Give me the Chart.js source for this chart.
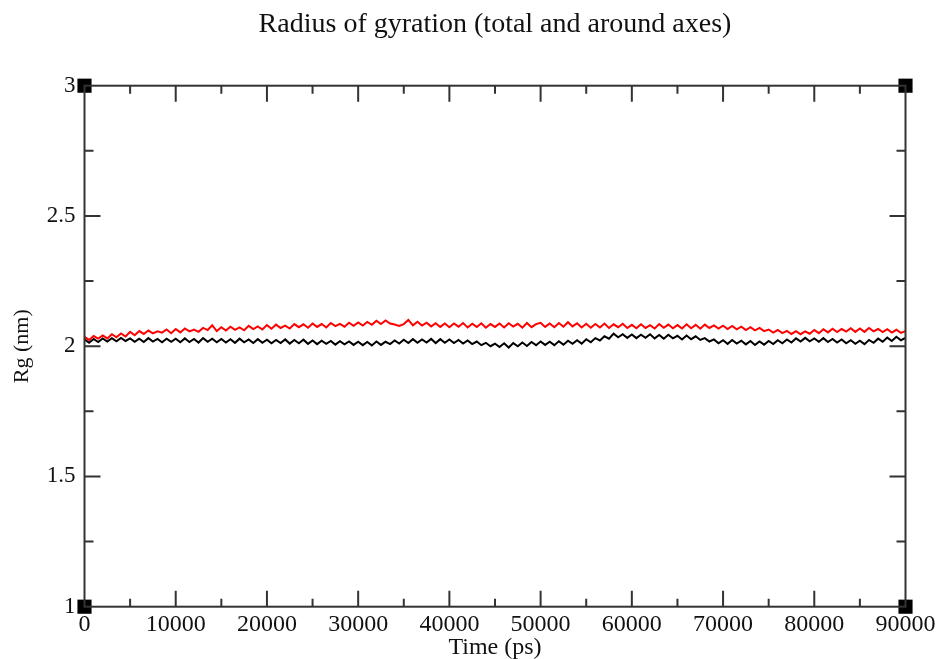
<!DOCTYPE html>
<html>
<head>
<meta charset="utf-8">
<script src="https://cdn.jsdelivr.net/npm/chart.js@4.4.1/dist/chart.umd.min.js"></script>
<style>
  body { margin: 0; background: #fff; }
</style>
</head>
<body>
<canvas id="rg-chart" width="940" height="659"></canvas>
<script>
// sampling step of the trajectory (ps)
const timeStep = 500;

// red series, one row = 5000 ps
const rgAxis = [
  2.036, 2.024, 2.039, 2.029, 2.041, 2.030, 2.046, 2.034, 2.049, 2.037,
  2.055, 2.042, 2.058, 2.047, 2.060, 2.049, 2.057, 2.052, 2.064, 2.050,
  2.066, 2.053, 2.068, 2.057, 2.064, 2.055, 2.070, 2.062, 2.080, 2.058,
  2.073, 2.060, 2.075, 2.063, 2.072, 2.061, 2.078, 2.066, 2.076, 2.064,
  2.081, 2.067, 2.083, 2.070, 2.079, 2.068, 2.085, 2.073, 2.084, 2.071,
  2.087, 2.074, 2.085, 2.072, 2.089, 2.077, 2.086, 2.075, 2.090, 2.078,
  2.091, 2.079, 2.093, 2.082, 2.098, 2.085, 2.099, 2.087, 2.083, 2.078,
  2.085, 2.101, 2.080, 2.094, 2.079, 2.090, 2.076, 2.088, 2.074, 2.087,
  2.073, 2.087, 2.075, 2.089, 2.072, 2.086, 2.074, 2.088, 2.071, 2.085,
  2.074, 2.087, 2.072, 2.088, 2.075, 2.086, 2.071, 2.089, 2.073, 2.085,
  2.090, 2.074, 2.087, 2.073, 2.089, 2.075, 2.092, 2.076, 2.088, 2.072,
  2.086, 2.071, 2.085, 2.072, 2.087, 2.070, 2.084, 2.073, 2.086, 2.070,
  2.082, 2.069, 2.084, 2.070, 2.081, 2.068, 2.085, 2.071, 2.083, 2.069,
  2.081, 2.068, 2.084, 2.069, 2.082, 2.067, 2.083, 2.070, 2.080, 2.068,
  2.079, 2.066, 2.078, 2.065, 2.075, 2.062, 2.073, 2.061, 2.070, 2.058,
  2.064, 2.052, 2.062, 2.050, 2.059, 2.047, 2.058, 2.046, 2.057, 2.048,
  2.062, 2.050, 2.065, 2.053, 2.067, 2.054, 2.066, 2.056, 2.069, 2.055,
  2.068, 2.055, 2.070, 2.057, 2.066, 2.054, 2.065, 2.052, 2.063, 2.051,
  2.058
];

// black series (total Rg)
const rgTotal = [
  2.026, 2.013, 2.028, 2.016, 2.030, 2.018, 2.031, 2.019, 2.032, 2.020,
  2.030, 2.017, 2.029, 2.016, 2.031, 2.018, 2.028, 2.015, 2.029, 2.017,
  2.029, 2.015, 2.030, 2.016, 2.028, 2.014, 2.031, 2.017, 2.029, 2.015,
  2.028, 2.014, 2.027, 2.013, 2.029, 2.015, 2.026, 2.012, 2.027, 2.013,
  2.025, 2.011, 2.024, 2.012, 2.026, 2.010, 2.024, 2.011, 2.025, 2.009,
  2.022, 2.008, 2.021, 2.009, 2.020, 2.006, 2.019, 2.007, 2.018, 2.005,
  2.017, 2.004, 2.016, 2.003, 2.018, 2.005, 2.017, 2.008, 2.022, 2.010,
  2.025, 2.012, 2.027, 2.013, 2.026, 2.014, 2.028, 2.012, 2.027, 2.013,
  2.026, 2.012, 2.024, 2.010, 2.022, 2.008, 2.018, 2.004, 2.013, 2.000,
  2.010, 1.997, 2.011, 1.995, 2.012, 2.000, 2.014, 2.001, 2.016, 2.004,
  2.018, 2.005, 2.017, 2.004, 2.019, 2.006, 2.021, 2.009, 2.023, 2.010,
  2.027, 2.015, 2.031, 2.022, 2.038, 2.029, 2.048, 2.034, 2.046, 2.032,
  2.045, 2.031, 2.044, 2.032, 2.046, 2.030, 2.043, 2.029, 2.044, 2.030,
  2.040, 2.026, 2.041, 2.027, 2.038, 2.024, 2.031, 2.018, 2.026, 2.011,
  2.023, 2.009, 2.024, 2.010, 2.021, 2.007, 2.020, 2.005, 2.018, 2.006,
  2.020, 2.008, 2.023, 2.011, 2.026, 2.014, 2.030, 2.018, 2.032, 2.019,
  2.030, 2.017, 2.031, 2.016, 2.028, 2.014, 2.026, 2.011, 2.023, 2.009,
  2.021, 2.008, 2.024, 2.013, 2.029, 2.017, 2.033, 2.020, 2.036, 2.023,
  2.032
];

// corner markers of the xmgrace frame
const cornerX = [0, 0, 90000, 90000];
const cornerY = [1, 3, 1, 3];

const xTicks = [0, 10000, 20000, 30000, 40000, 50000, 60000, 70000, 80000, 90000];
const yTicks = [1, 1.5, 2, 2.5, 3];

const titleText = 'Radius of gyration (total and around axes)';
const serif = '"Liberation Serif", "DejaVu Serif", serif';

const toPoints = arr => arr.map((v, i) => ({ x: i * timeStep, y: v }));

// inward ticks, box and title centred over the plot, like xmgrace
const framePlugin = {
  id: 'frame',
  afterDatasetsDraw(chart) {
    const { ctx, chartArea: a, scales: { x, y } } = chart;
    ctx.save();
    ctx.strokeStyle = '#333';
    ctx.lineWidth = 2;
    ctx.strokeRect(a.left, a.top, a.right - a.left, a.bottom - a.top);
    ctx.beginPath();
    for (let t = 5000; t < 90000; t += 5000) {
      const px = x.getPixelForValue(t);
      const len = t % 10000 === 0 ? 16 : 8;
      ctx.moveTo(px, a.bottom); ctx.lineTo(px, a.bottom - len);
      ctx.moveTo(px, a.top); ctx.lineTo(px, a.top + len);
    }
    for (let v = 1.25; v < 3; v += 0.25) {
      const py = y.getPixelForValue(v);
      const len = Math.abs(v * 2 - Math.round(v * 2)) < 0.01 ? 16 : 9;
      ctx.moveTo(a.left, py); ctx.lineTo(a.left + len, py);
      ctx.moveTo(a.right, py); ctx.lineTo(a.right - len, py);
    }
    ctx.stroke();

    ctx.fillStyle = '#111';
    ctx.font = '28px ' + serif;
    ctx.textAlign = 'center';
    ctx.textBaseline = 'middle';
    ctx.fillText(titleText, (a.left + a.right) / 2, 25);
    ctx.restore();
  }
};

new Chart(document.getElementById('rg-chart').getContext('2d'), {
  type: 'line',
  data: {
    datasets: [
      {
        label: 'Rg around axes',
        data: toPoints(rgAxis),
        borderColor: '#ff0000',
        borderWidth: 2,
        pointRadius: 0,
        tension: 0
      },
      {
        label: 'Rg',
        data: toPoints(rgTotal),
        borderColor: '#000000',
        borderWidth: 2,
        pointRadius: 0,
        tension: 0
      },
      {
        type: 'scatter',
        label: 'corners',
        data: cornerX.map((v, i) => ({ x: v, y: cornerY[i] })),
        pointStyle: 'rect',
        pointRadius: 10,
        backgroundColor: '#000',
        borderColor: '#000',
        borderWidth: 0,
        clip: false
      }
    ]
  },
  options: {
    responsive: false,
    animation: false,
    layout: { padding: { left: 0, right: 34.5, top: 85.7, bottom: 0 } },
    plugins: {
      legend: { display: false },
      tooltip: { enabled: false },
      title: { display: false }
    },
    scales: {
      x: {
        type: 'linear',
        min: 0,
        max: 90000,
        afterFit: s => { s.height = 52.3; },
        afterBuildTicks: s => { s.ticks = xTicks.map(v => ({ value: v })); },
        grid: { display: false, drawTicks: false },
        border: { display: false },
        ticks: {
          color: '#111',
          padding: 4,
          maxRotation: 0,
          font: { family: serif, size: 24 },
          callback: v => String(v)
        },
        title: {
          display: true,
          text: 'Time (ps)',
          color: '#111',
          padding: { top: 0, bottom: -3 },
          font: { family: serif, size: 24 }
        }
      },
      y: {
        min: 1,
        max: 3,
        afterFit: s => { s.width = 84.5; },
        afterBuildTicks: s => { s.ticks = yTicks.map(v => ({ value: v })); },
        grid: { display: false, drawTicks: false },
        border: { display: false },
        ticks: {
          color: '#111',
          padding: 9,
          font: { family: serif, size: 23 },
          callback: v => String(v)
        },
        title: {
          display: true,
          text: 'Rg (nm)',
          color: '#111',
          padding: { top: 9, bottom: 0 },
          font: { family: serif, size: 22 }
        }
      }
    }
  },
  plugins: [framePlugin]
});
</script>
</body>
</html>
